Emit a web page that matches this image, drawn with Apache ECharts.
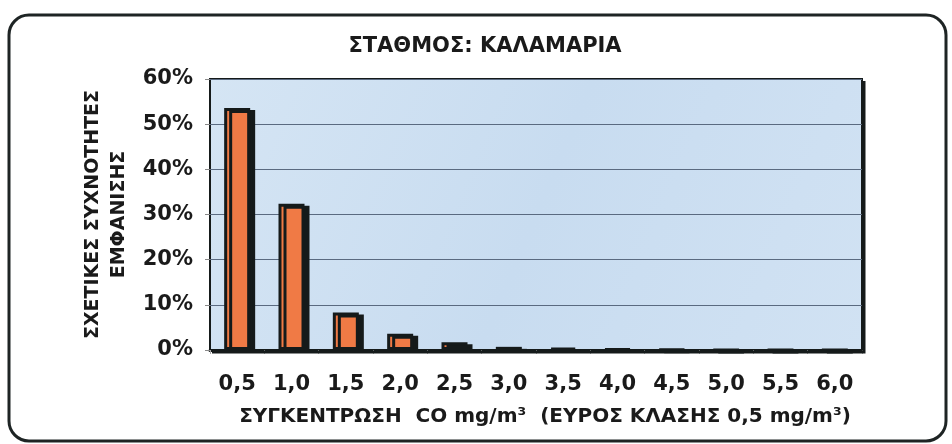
<!DOCTYPE html>
<html><head><meta charset="utf-8">
<script src="https://cdn.jsdelivr.net/npm/echarts@6/dist/echarts.min.js"></script>
<style>html,body{margin:0;padding:0;background:#fff}#c{width:952px;height:444px}</style>
</head><body><div id="c"></div>
<script>
const categories = ['0,5','1,0','1,5','2,0','2,5','3,0','3,5','4,0','4,5','5,0','5,5','6,0'];
const values = [53.6, 32.4, 8.3, 3.6, 1.7, 0.7, 0.4, 0.2, 0.15, 0.05, 0.03, 0.02];
const yTicks = [0, 10, 20, 30, 40, 50, 60];
const titleText = 'ΣΤΑΘΜΟΣ: ΚΑΛΑΜΑΡΙΑ';
const yName = 'ΣΧΕΤΙΚΕΣ ΣΥΧΝΟΤΗΤΕΣ\nΕΜΦΑΝΙΣΗΣ';
const xName = 'ΣΥΓΚΕΝΤΡΩΣΗ  CO mg/m³  (ΕΥΡΟΣ ΚΛΑΣΗΣ 0,5 mg/m³)';

const FONT = '"DejaVu Sans", Verdana, sans-serif';
const INK = '#1a1a1a';
const chart = echarts.init(document.getElementById('c'), null, {renderer: 'canvas'});
chart.setOption({
  animation: false,
  backgroundColor: '#fff',
  title: {
    text: titleText, left: 480, top: 31, textAlign: 'center',
    textStyle: {fontFamily: FONT, fontWeight: 'bold', fontSize: 21, color: INK}
  },
  graphic: [{
    type: 'rect', z: 100, silent: true,
    shape: {x: 9, y: 15, width: 937, height: 426, r: 20},
    style: {fill: 'none', stroke: '#1e2424', lineWidth: 3}
  }, {
    type: 'polyline', z: 100, silent: true,
    shape: {points: [[864, 81], [864, 352], [212, 352]]},
    style: {fill: 'none', stroke: '#151a1a', lineWidth: 3}
  }],
  grid: {
    left: 210, right: 90, top: 79, bottom: 94, show: true,
    backgroundColor: new echarts.graphic.LinearGradient(0, 0, 1, 1, [
      {offset: 0, color: '#d5e5f4'}, {offset: 0.5, color: '#c8dcf0'}, {offset: 1, color: '#d1e2f3'}
    ]),
    borderColor: '#151a1a', borderWidth: 2
  },
  xAxis: {
    type: 'category', data: categories,
    name: xName, nameLocation: 'middle', nameGap: 57,
    nameTextStyle: {fontFamily: FONT, fontWeight: 'bold', fontSize: 20, color: INK, padding: [0, 0, 0, 18]},
    axisLine: {show: true, lineStyle: {color: '#151a1a', width: 3}},
    axisTick: {show: true, alignWithLabel: false, length: 4, lineStyle: {color: '#aaa'}},
    axisLabel: {fontFamily: FONT, fontWeight: 'bold', fontSize: 21, color: INK, margin: 24}
  },
  yAxis: {
    type: 'value', min: 0, max: 60, interval: 10,
    name: yName, nameLocation: 'middle', nameGap: 75, nameRotate: 90,
    nameTextStyle: {fontFamily: FONT, fontWeight: 'bold', fontSize: 19, color: INK, lineHeight: 26, align: 'center'},
    axisLine: {show: false},
    axisTick: {show: true, length: 5, lineStyle: {color: '#888'}},
    axisLabel: {fontFamily: FONT, fontWeight: 'bold', fontSize: 21, color: INK, margin: 17,
      formatter: v => yTicks.includes(v) ? v + '%' : ''},
    splitLine: {show: true, lineStyle: {color: '#5a6a80', width: 1}}
  },
  series: [{
    type: 'bar', data: values, barWidth: 26,
    itemStyle: {
      color: '#f07a45', borderColor: '#151a1a', borderWidth: 3,
      shadowColor: '#151a1a', shadowOffsetX: 5, shadowOffsetY: 2, shadowBlur: 0
    }
  }]
});
</script></body></html>
